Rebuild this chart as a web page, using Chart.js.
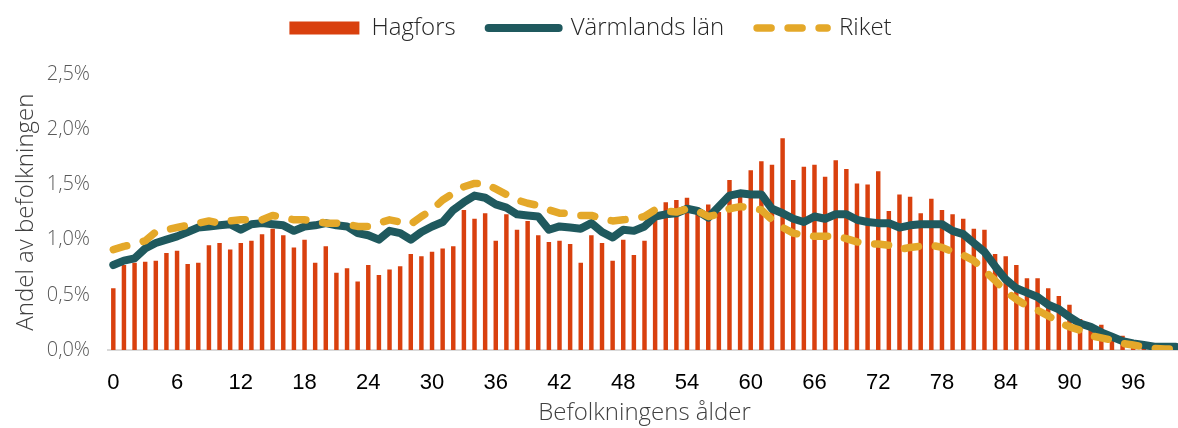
<!DOCTYPE html>
<html lang="sv">
<head>
<meta charset="utf-8">
<title>Befolkning efter ålder</title>
<script src="https://cdn.jsdelivr.net/npm/chart.js@4.4.1/dist/chart.umd.min.js"></script>
<style>
    html, body { margin: 0; padding: 0; background: #fff; overflow: hidden; }
    #wrap { width: 1181px; height: 428px; position: relative; }
</style>
</head>
<body>
<div id="wrap"><canvas id="ageChart"></canvas></div>
<script>
// Ålder 0-100
const ages = [
    0, 1, 2, 3, 4, 5, 6, 7, 8, 9,
    10, 11, 12, 13, 14, 15, 16, 17, 18, 19,
    20, 21, 22, 23, 24, 25, 26, 27, 28, 29,
    30, 31, 32, 33, 34, 35, 36, 37, 38, 39,
    40, 41, 42, 43, 44, 45, 46, 47, 48, 49,
    50, 51, 52, 53, 54, 55, 56, 57, 58, 59,
    60, 61, 62, 63, 64, 65, 66, 67, 68, 69,
    70, 71, 72, 73, 74, 75, 76, 77, 78, 79,
    80, 81, 82, 83, 84, 85, 86, 87, 88, 89,
    90, 91, 92, 93, 94, 95, 96, 97, 98, 99,
    100
];

// Andel av befolkningen (%)
const hagfors = [
    0.56, 0.77, 0.79, 0.80, 0.81, 0.88, 0.90, 0.78, 0.79, 0.95,
    0.97, 0.91, 0.97, 0.99, 1.05, 1.10, 1.04, 0.93, 1.00, 0.79,
    0.94, 0.70, 0.74, 0.62, 0.77, 0.68, 0.73, 0.76, 0.87, 0.85,
    0.89, 0.92, 0.94, 1.27, 1.19, 1.24, 0.99, 1.23, 1.09, 1.17,
    1.04, 0.98, 0.99, 0.96, 0.79, 1.04, 0.97, 0.81, 1.00, 0.86,
    0.99, 1.25, 1.34, 1.36, 1.38, 1.29, 1.32, 1.25, 1.54, 1.40,
    1.63, 1.71, 1.68, 1.92, 1.54, 1.66, 1.68, 1.57, 1.72, 1.64,
    1.51, 1.50, 1.62, 1.26, 1.41, 1.39, 1.24, 1.37, 1.27, 1.23,
    1.19, 1.10, 1.09, 0.87, 0.85, 0.77, 0.65, 0.65, 0.56, 0.49,
    0.41, 0.28, 0.20, 0.23, 0.13, 0.13, 0.08, 0.05, 0.03, 0.02,
    0.01
];

const varmland = [
    0.77, 0.81, 0.83, 0.92, 0.97, 1.00, 1.03, 1.07, 1.11, 1.12,
    1.13, 1.14, 1.09, 1.14, 1.15, 1.14, 1.13, 1.08, 1.12, 1.13,
    1.15, 1.13, 1.12, 1.06, 1.04, 1.00, 1.08, 1.06, 1.00, 1.07,
    1.12, 1.16, 1.27, 1.34, 1.40, 1.38, 1.32, 1.29, 1.23, 1.22,
    1.21, 1.09, 1.12, 1.11, 1.10, 1.15, 1.07, 1.02, 1.09, 1.08,
    1.12, 1.21, 1.23, 1.24, 1.28, 1.26, 1.20, 1.30, 1.40, 1.42,
    1.41, 1.41, 1.28, 1.24, 1.19, 1.16, 1.21, 1.19, 1.23, 1.23,
    1.18, 1.16, 1.15, 1.15, 1.11, 1.13, 1.14, 1.14, 1.14, 1.08,
    1.05, 0.97, 0.89, 0.76, 0.64, 0.56, 0.52, 0.48, 0.41, 0.37,
    0.30, 0.24, 0.21, 0.16, 0.12, 0.08, 0.06, 0.045, 0.03, 0.03,
    0.03
];

const riket = [
    0.91, 0.94, 0.96, 0.99, 1.07, 1.09, 1.11, 1.13, 1.15, 1.17,
    1.15, 1.17, 1.18, 1.18, 1.18, 1.22, 1.20, 1.18, 1.18, 1.17,
    1.15, 1.15, 1.14, 1.12, 1.12, 1.15, 1.18, 1.16, 1.14, 1.21,
    1.27, 1.36, 1.42, 1.48, 1.51, 1.51, 1.46, 1.41, 1.36, 1.33,
    1.31, 1.27, 1.24, 1.24, 1.22, 1.22, 1.19, 1.17, 1.18, 1.19,
    1.21, 1.27, 1.26, 1.25, 1.28, 1.26, 1.21, 1.23, 1.28, 1.30,
    1.29, 1.27, 1.18, 1.11, 1.06, 1.04, 1.03, 1.03, 1.03, 1.01,
    0.98, 0.96, 0.96, 0.95, 0.91, 0.93, 0.94, 0.95, 0.93, 0.89,
    0.86, 0.81, 0.72, 0.63, 0.53, 0.46, 0.40, 0.36, 0.31, 0.25,
    0.21, 0.18, 0.13, 0.11, 0.09, 0.06, 0.045, 0.03, 0.015, 0.01,
    0.01
];

// Etiketter som visas på x-axeln
const xTickLabels = ['0', '6', '12', '18', '24', '30', '36', '42', '48', '54', '60', '66', '72', '78', '84', '90', '96'];

const lightFont = "'Open Sans', 'DejaVu Sans', sans-serif";

const ctx = document.getElementById('ageChart').getContext('2d');

new Chart(ctx, {
    type: 'bar',
    data: {
        labels: ages.map(String),
        datasets: [{
            label: 'Hagfors',
            data: hagfors,
            backgroundColor: '#D9400E',
            barPercentage: 0.42,
            categoryPercentage: 1,
            order: 3
        }, {
            type: 'line',
            label: 'Värmlands län',
            data: varmland,
            borderColor: '#1F595E',
            backgroundColor: '#1F595E',
            borderWidth: 8,
            borderCapStyle: 'round',
            borderJoinStyle: 'round',
            pointRadius: 0,
            tension: 0,
            fill: false,
            order: 2
        }, {
            type: 'line',
            label: 'Riket',
            data: riket,
            borderColor: '#E4A829',
            backgroundColor: '#E4A829',
            borderWidth: 7.5,
            borderDash: [14, 17],
            borderCapStyle: 'round',
            borderJoinStyle: 'round',
            pointRadius: 0,
            tension: 0,
            fill: false,
            order: 1
        }]
    },
    options: {
        responsive: true,
        maintainAspectRatio: false,
        animation: false,
        layout: {
            padding: { top: -17, left: 0, right: 0, bottom: 0 }
        },
        plugins: {
            tooltip: { enabled: false },
            // tomt block för luft mellan legend och diagram
            title: {
                display: true,
                text: ' ',
                weight: 500,
                font: { size: 1 },
                padding: { top: 0, bottom: 23 }
            },
            legend: {
                position: 'top',
                labels: {
                    usePointStyle: true,
                    pointStyleWidth: 70,
                    boxHeight: 13,
                    padding: 33,
                    color: '#262626',
                    font: { family: lightFont, size: 24, weight: '300' },
                    sort: (a, b) => a.datasetIndex - b.datasetIndex,
                    generateLabels: (chart) => {
                        const items = Chart.defaults.plugins.legend.labels.generateLabels(chart);
                        items.forEach((item) => {
                            const ds = chart.data.datasets[item.datasetIndex];
                            const bar = item.datasetIndex === 0;
                            item.pointStyle = bar ? 'rect' : 'line';
                            item.lineCap = 'round';
                            item.lineDash = ds.borderDash || [];
                            if (bar) item.lineWidth = 0;
                        });
                        return items;
                    }
                }
            }
        },
        scales: {
            x: {
                grid: { display: false, drawTicks: true, tickLength: 20 },
                border: { display: true, color: '#D9D9D9', width: 2 },
                afterFit: (scale) => { scale.height = 78; },
                ticks: {
                    autoSkip: false,
                    maxRotation: 0,
                    padding: 0,
                    color: '#000000',
                    font: { family: "'Liberation Sans', Arial, sans-serif", size: 22 },
                    callback: function (value) {
                        const lbl = this.getLabelForValue(value);
                        return xTickLabels.includes(lbl) ? lbl : '';
                    }
                },
                title: {
                    display: true,
                    text: 'Befolkningens ålder',
                    color: '#404040',
                    font: { family: lightFont, size: 24, weight: '300' },
                    padding: { top: 0, bottom: 0 }
                }
            },
            y: {
                min: 0,
                max: 2.5,
                grid: { display: false, drawTicks: false },
                border: { display: false },
                afterFit: (scale) => { scale.width = 108; },
                ticks: {
                    stepSize: 0.5,
                    padding: 18,
                    color: '#595959',
                    font: { family: lightFont, size: 20, weight: '300' },
                    callback: (value) => value.toFixed(1).replace('.', ',') + '%'
                },
                title: {
                    display: true,
                    text: 'Andel av befolkningen',
                    color: '#404040',
                    font: { family: lightFont, size: 24, weight: '300' },
                    padding: { top: 12, bottom: 4 }
                }
            }
        }
    }
});
</script>
</body>
</html>
